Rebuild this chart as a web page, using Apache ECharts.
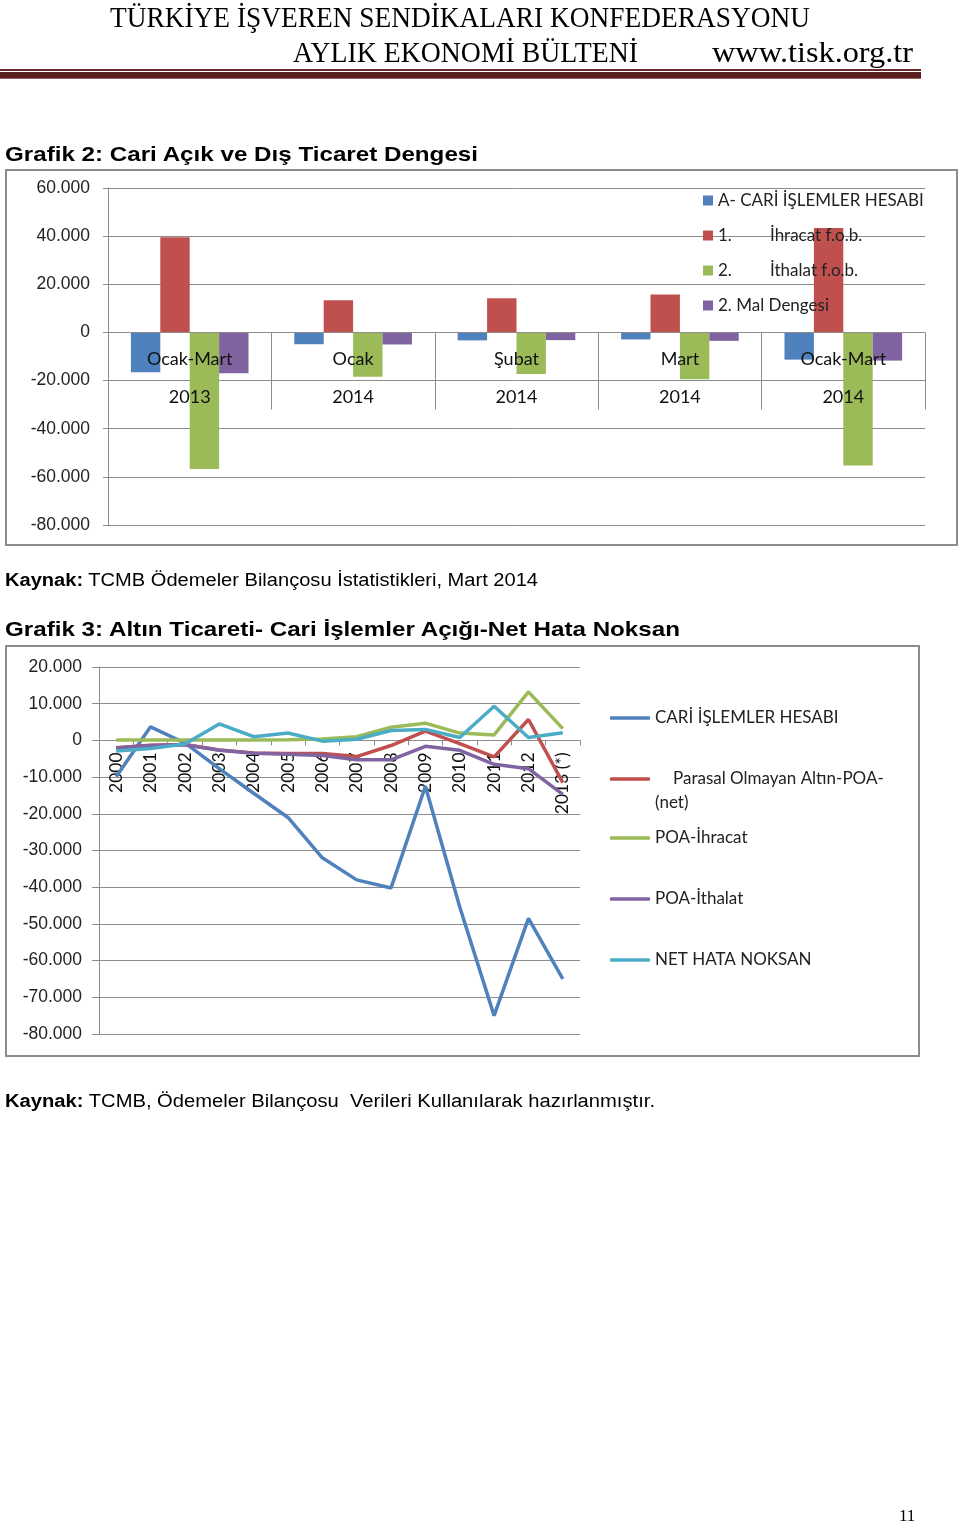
<!DOCTYPE html>
<html>
<head>
<meta charset="utf-8">
<script src="https://cdn.jsdelivr.net/npm/echarts@6/dist/echarts.min.js"></script>
<style>
  html, body { margin: 0; padding: 0; background: #fff; }
  #page { position: relative; width: 960px; height: 1524px; overflow: hidden; background: #fff; }
  #chart { position: absolute; left: 0; top: 0; width: 960px; height: 1524px; z-index: 2; }
  .t { position: absolute; white-space: pre; transform-origin: 0 50%; z-index: 3; color: #000; }
  .box { position: absolute; border: 2px solid #8c8c8c; box-sizing: border-box; z-index: 1; }
  .hl { position: absolute; left: 0; width: 921px; z-index: 1; }
</style>
</head>
<body>
<div id="page">
  <div class="t fit" data-w="700" style="left:110px;top:1px;font:30px/32px 'Liberation Serif';">TÜRKİYE İŞVEREN SENDİKALARI KONFEDERASYONU</div>
  <div class="t fit" data-w="345" style="left:293px;top:36px;font:30px/32px 'Liberation Serif';">AYLIK EKONOMİ BÜLTENİ</div>
  <div class="t fit" data-w="201" style="left:712px;top:36px;font:30px/32px 'Liberation Serif';">www.tisk.org.tr</div>
  <div class="hl" style="top:69px;height:2px;background:#6b2a2a;"></div>
  <div class="hl" style="top:72px;height:7px;background:#5c1f1f;"></div>
  <div class="hl" style="top:78px;height:1px;background:#9a6060;"></div>

  <div class="t fit" data-w="473" style="left:5px;top:141px;font:bold 21px/26px 'Liberation Sans';">Grafik 2: Cari Açık ve Dış Ticaret Dengesi</div>
  <div class="box" style="left:5px;top:169px;width:953px;height:377px;"></div>
  <div class="t fit" data-w="533" style="left:5px;top:568px;font:18px/24px 'Liberation Sans';"><b>Kaynak:</b> TCMB Ödemeler Bilançosu İstatistikleri, Mart 2014</div>
  <div class="t fit" data-w="675" style="left:5px;top:616px;font:bold 21px/26px 'Liberation Sans';">Grafik 3: Altın Ticareti- Cari İşlemler Açığı-Net Hata Noksan</div>
  <div class="box" style="left:5px;top:645px;width:915px;height:412px;"></div>
  <div class="t fit" data-w="650" style="left:5px;top:1089px;font:18px/24px 'Liberation Sans';"><b>Kaynak:</b> TCMB, Ödemeler Bilançosu  Verileri Kullanılarak hazırlanmıştır.</div>
  <div class="t" style="left:899px;top:1506px;font:17px/20px 'Liberation Serif';">11</div>
  <div id="chart"></div>
</div>
<script>
// ---------- Grafik 2 data ----------
const months1 = ['Ocak-Mart', 'Ocak', 'Şubat', 'Mart', 'Ocak-Mart'];
const years1 = ['2013', '2014', '2014', '2014', '2014'];
const names1 = ['A- CARİ İŞLEMLER HESABI', '1.\tİhracat f.o.b.', '2.\tİthalat f.o.b.', '2. Mal Dengesi'];
const cariHesap = [-16500, -4900, -3300, -2900, -11300];
const ihracat = [39500, 13400, 14200, 15800, 43400];
const ithalat = [-56700, -18400, -17300, -19400, -55300];
const malDengesi = [-17000, -5000, -3200, -3500, -11700];
const ticks1 = { min: -80000, max: 60000, interval: 20000 };

// ---------- Grafik 3 data ----------
const years2 = ['2000', '2001', '2002', '2003', '2004', '2005', '2006', '2007', '2008', '2009', '2010', '2011', '2012', '2013 (*)'];
const names2 = ['CARİ İŞLEMLER HESABI', 'Parasal Olmayan Altın-POA-(net)', 'POA-İhracat', 'POA-İthalat', 'NET HATA NOKSAN'];
const cariIslemler = [-9900, 3700, -700, -7700, -14400, -21000, -32000, -38000, -40200, -12500, -45400, -75000, -48500, -65000];
const parasalAltin = [-2000, -1300, -1100, -2600, -3400, -3600, -3600, -4400, -1400, 2500, -900, -4500, 5700, -11500];
const poaIhracat = [100, 100, 100, 100, 100, 200, 400, 1000, 3600, 4700, 2000, 1500, 13200, 3200];
const poaIthalat = [-2100, -1400, -1200, -2700, -3500, -3800, -4100, -5300, -5300, -1600, -2700, -6500, -7700, -14700];
const netHata = [-2900, -2200, -1000, 4500, 1000, 2000, -200, 300, 2700, 3000, 800, 9300, 800, 2100];
const ticks2 = { min: -80000, max: 20000, interval: 10000 };

const colors = ['#4F81BD', '#C0504D', '#9BBB59', '#8064A2', '#4BACC6'];
const grid = '#8c8c8c';
const fmtK = v => v === 0 ? '0' : (v < 0 ? '-' : '') + (Math.abs(v) / 1000) + '.000';
const cats1 = months1.map((m, i) => m + '\n' + years1[i]);

// grid geometry (pixels)
const g1 = { left: 108, right: 35, top: 188, bottom: 999 };
const g2 = { left: 99, right: 380, top: 667, bottom: 490 };
const h1 = 1524 - g1.top - g1.bottom;
const h2 = 1524 - g2.top - g2.bottom;
// offset that puts each category axis on the value zero line
const zeroOffset1 = -h1 * (0 - ticks1.min) / (ticks1.max - ticks1.min);
const zeroOffset2 = -h2 * (0 - ticks2.min) / (ticks2.max - ticks2.min);

const barData = [cariHesap, ihracat, ithalat, malDengesi];
const lineData = [cariIslemler, parasalAltin, poaIhracat, poaIthalat, netHata];

const series = [];
barData.forEach((d, i) => series.push({
  type: 'bar', name: names1[i], xAxisIndex: 0, yAxisIndex: 0, data: d,
  barGap: '0%', barCategoryGap: '28%', itemStyle: { color: colors[i] }
}));
lineData.forEach((d, i) => series.push({
  type: 'line', name: names2[i], xAxisIndex: 1, yAxisIndex: 1, data: d,
  symbol: 'none', lineStyle: { width: 3.5, color: colors[i] }, itemStyle: { color: colors[i] }
}));

const legendTops2 = [708, 743, 828, 889, 950];
const legends2 = names2.map((n, i) => ({
  data: [n], left: 610, top: legendTops2[i], orient: 'vertical', padding: 0,
  icon: 'roundRect', itemWidth: 40, itemHeight: 3.5,
  textStyle: {
    fontFamily: 'Lato', fontSize: 17, color: '#222', lineHeight: 20,
    rich: {
      e: { fontFamily: 'Lato', fontSize: 17, lineHeight: 24, color: '#222' },
      i: { fontFamily: 'Lato', fontSize: 17, lineHeight: 24, color: '#222', padding: [0, 0, 0, 18] },
      p: { fontFamily: 'Lato', fontSize: 17, lineHeight: 24, color: '#222' }
    }
  },
  formatter: name => name === names2[1] ? '{e| }\n{i|Parasal Olmayan Altın-POA-}\n{p|(net)}' : name
}));

const option = {
  animation: false,
  grid: [g1, g2],
  xAxis: [
    {
      type: 'category', gridIndex: 0, data: cats1, z: 10, position: 'bottom', offset: zeroOffset1,
      axisLine: { onZero: false, lineStyle: { color: grid, width: 1 } },
      axisTick: { show: true, interval: 0, length: 77, lineStyle: { color: grid } },
      axisLabel: { interval: 0, margin: 8, fontFamily: 'Lato', fontSize: 18, color: '#111', lineHeight: 38 }
    },
    {
      type: 'category', gridIndex: 1, data: years2, boundaryGap: true, position: 'bottom', offset: zeroOffset2,
      axisLine: { onZero: false, lineStyle: { color: grid, width: 1 } },
      axisTick: { show: true, interval: 0, length: 5, lineStyle: { color: grid } },
      axisLabel: { interval: 0, rotate: 90, margin: 12, fontFamily: 'Lato', fontSize: 17.5, color: '#111' }
    }
  ],
  yAxis: [
    {
      type: 'value', gridIndex: 0, min: ticks1.min, max: ticks1.max, interval: ticks1.interval,
      axisLine: { show: true, lineStyle: { color: grid } },
      axisTick: { show: true, length: 5, lineStyle: { color: grid } },
      axisLabel: { formatter: fmtK, margin: 18, fontFamily: 'Liberation Sans', fontSize: 17.5, color: '#222' },
      splitLine: { lineStyle: { color: grid, width: 1 } }
    },
    {
      type: 'value', gridIndex: 1, min: ticks2.min, max: ticks2.max, interval: ticks2.interval,
      axisLine: { show: true, lineStyle: { color: grid } },
      axisTick: { show: true, length: 7, lineStyle: { color: grid } },
      axisLabel: { formatter: fmtK, margin: 17, fontFamily: 'Liberation Sans', fontSize: 17.5, color: '#222' },
      splitLine: { lineStyle: { color: grid, width: 1 } }
    }
  ],
  legend: [
    {
      data: names1, left: 703, top: 192, orient: 'vertical', icon: 'rect', padding: 0,
      itemWidth: 10, itemHeight: 10, itemGap: 18,
      textStyle: {
        fontFamily: 'Lato', fontSize: 17, color: '#222', lineHeight: 17,
        rich: {
          n: { fontFamily: 'Lato', fontSize: 17, color: '#222', lineHeight: 17, width: 52 },
          t: { fontFamily: 'Lato', fontSize: 17, color: '#222', lineHeight: 17 }
        }
      },
      formatter: name => {
        const p = name.split('\t');
        return p.length > 1 ? '{n|' + p[0] + '}{t|' + p[1] + '}' : name;
      }
    }
  ].concat(legends2),
  series: series
};

const chart = echarts.init(document.getElementById('chart'), null, { renderer: 'canvas' });
chart.setOption(option);

function fitTexts() {
  document.querySelectorAll('.fit').forEach(el => {
    el.style.transform = 'none';
    const w = el.getBoundingClientRect().width;
    const target = parseFloat(el.dataset.w);
    if (w > 0) el.style.transform = 'scaleX(' + (target / w) + ')';
  });
}
fitTexts();
if (document.fonts && document.fonts.ready) document.fonts.ready.then(fitTexts);
</script>
</body>
</html>
